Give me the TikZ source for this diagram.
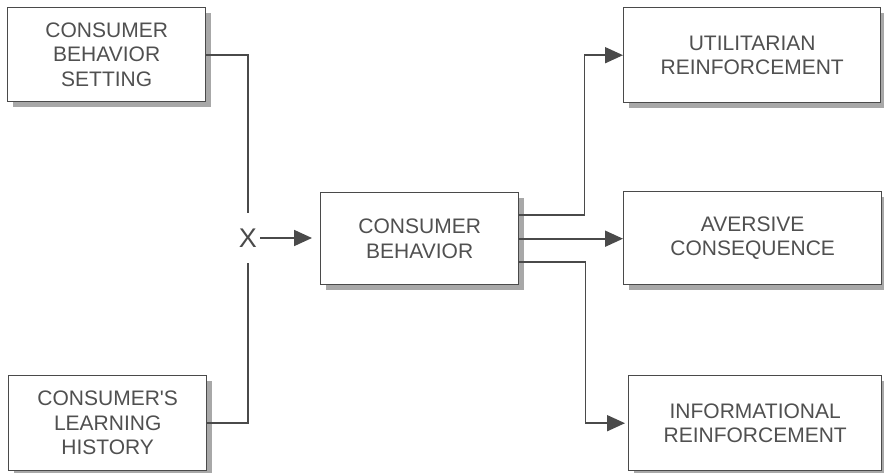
\documentclass[tikz,border=0pt]{standalone}
\usepackage{fontspec}
\setmainfont{Liberation Sans}
\newfontfamily\boxfont{Liberation Sans}[Scale=2.1]
\newfontfamily\xfont{Liberation Sans}[Scale=2.7]
\usetikzlibrary{arrows.meta,shadows}
\definecolor{ink}{HTML}{4A4A4A}
\definecolor{txt}{HTML}{505050}
\definecolor{shd}{HTML}{A8A8A8}
\begin{document}
\begin{tikzpicture}[x=1pt,y=-1pt,
  box/.style={draw=ink, line width=1.4pt, fill=white, anchor=north west,
    inner sep=0pt, align=center, text=txt,
    font={\fontsize{10pt}{24.5pt}\selectfont\boxfont},
    drop shadow={shadow xshift=5pt, shadow yshift=-5pt, fill=shd, opacity=1}},
  conn/.style={draw=ink, line width=1.8pt},
  arr/.style={conn, -{Triangle[length=18pt,width=16pt]}}]
\useasboundingbox (0,0) rectangle (884,473);
\fill[white] (0,0) rectangle (884,473);
% left boxes
\node[box, minimum width=198pt, minimum height=94pt] (tl) at (7,7)
  {CONSUMER\\BEHAVIOR\\SETTING};
\node[box, minimum width=198pt, minimum height=95pt] (bl) at (8,375)
  {CONSUMER'S\\LEARNING\\HISTORY};
% centre box
\node[box, minimum width=198pt, minimum height=92pt] (cb) at (320,192)
  {CONSUMER\\BEHAVIOR};
% right boxes
\node[box, minimum width=257pt, minimum height=95pt] (ut) at (623,7)
  {UTILITARIAN\\REINFORCEMENT};
\node[box, minimum width=258pt, minimum height=93pt] (av) at (623,191)
  {AVERSIVE\\CONSEQUENCE};
\node[box, minimum width=253pt, minimum height=95pt] (ir) at (628,375)
  {INFORMATIONAL\\REINFORCEMENT};
% junction X
\node[inner sep=0pt, minimum width=22pt, minimum height=49pt, text=ink,
  font=\xfont] (X) at (248,238) {X};
% connectors
\draw[conn] (tl.east) -| (X.north);
\draw[conn] (bl.east) -| (X.south);
\draw[arr, shorten >=8pt] ([xshift=1pt]X.east) -- (X.east -| cb.west);
\draw[arr] ([yshift=24pt]cb.east) -- ++(65,0) |- (ut.west);
\draw[arr] (cb.east) -- (cb.east -| av.west);
\draw[arr, shorten >=3pt] ([yshift=-23pt]cb.east) -- ++(66,0) |- (ir.west);
\end{tikzpicture}
\end{document}
